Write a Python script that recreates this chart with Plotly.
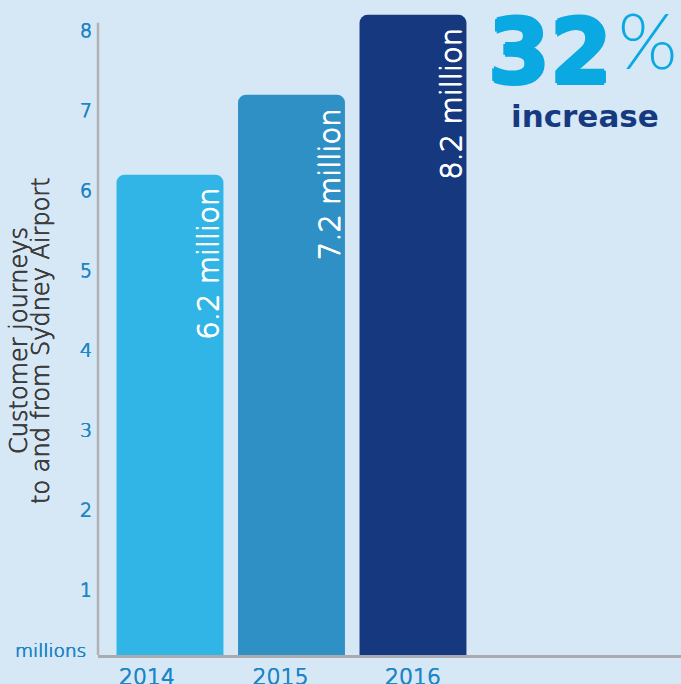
import plotly.graph_objects as go

years = ["2014", "2015", "2016"]
journeys = [6.2, 7.2, 8.2]
bar_labels = ["6.2 million", "7.2 million", "8.2 million"]
bar_colors = ["#30b5e6", "#2f90c6", "#15387f"]
y_ticks = [1, 2, 3, 4, 5, 6, 7, 8]
y_title_lines = ["Customer journeys", "to and from Sydney Airport"]

BG = "#d6e7f6"
BLUE = "#1c86c7"
FONT = "DejaVu Sans"

W, H = 681, 684
L, R, T, B = 98, 0, 0, 29
pw, ph = W - L - R, H - T - B

def px(x):
    return (x - L) / pw

def py(y):
    return (H - B - y) / ph

def thick(c, d=0.45):
    return f"{d}px 0 0 {c}, -{d}px 0 0 {c}, 0 {d}px 0 {c}, 0 -{d}px 0 {c}"

xs = list(range(len(years)))
label_offsets = [-0.19, -0.09, 0.0]

fig = go.Figure()
fig.add_trace(go.Bar(
    x=xs, y=journeys, width=0.88,
    marker=dict(color=bar_colors, line=dict(width=0)),
    hoverinfo="skip",
))

annotations = []
for i, (v, t) in enumerate(zip(journeys, bar_labels)):
    annotations.append(dict(
        x=i, y=v, xref="x", yref="y", text=t, showarrow=False,
        textangle=-90, xanchor="center", yanchor="top",
        xshift=38, yshift=-11,
        font=dict(family=FONT, size=29, color="white", weight=200, shadow=thick("white", 0.5)),
    ))

for xc, line in zip([19, 41], y_title_lines):
    annotations.append(dict(
        x=px(xc), y=py(341), xref="paper", yref="paper", xanchor="center", yanchor="middle",
        text=line, showarrow=False, textangle=-90,
        font=dict(family=FONT, size=24, color="#3d3d3d", weight=200, shadow=thick("#3d3d3d", 0.4)),
    ))

annotations += [
    dict(x=px(88), y=py(650), xref="paper", yref="paper", xanchor="right", yanchor="middle",
         text="millions", showarrow=False,
         font=dict(family=FONT, size=18.5, color=BLUE, weight=200, shadow=thick(BLUE, 0.35))),
    dict(x=px(614), y=py(52), xref="paper", yref="paper", xanchor="right", yanchor="middle",
         text="<b>32</b>", showarrow=False,
         font=dict(family=FONT, size=89, color="#0aa9e1", shadow=thick("#0aa9e1", 1.8))),
    dict(x=px(616), y=py(40), xref="paper", yref="paper", xanchor="left", yanchor="middle",
         text="%", showarrow=False, font=dict(family="Lato", size=76, color="#0aa9e1", weight=300)),
    dict(x=px(585), y=py(116), xref="paper", yref="paper", xanchor="center", yanchor="middle",
         text="<b>increase</b>", showarrow=False, font=dict(family=FONT, size=31, color="#163a80")),
]

fig.update_layout(
    width=W, height=H,
    margin=dict(l=L, r=R, t=T, b=B, pad=0),
    paper_bgcolor=BG, plot_bgcolor=BG,
    template="none",
    showlegend=False,
    barcornerradius=8,
    annotations=annotations,
    xaxis=dict(
        range=[-0.5926, 4.206], tickvals=[x + o for x, o in zip(xs, label_offsets)], ticktext=years,
        showgrid=False, zeroline=False, showline=True, linecolor="#a9abae", linewidth=3,
        ticks="", tickfont=dict(family=FONT, size=22, color=BLUE, weight=200, shadow=thick(BLUE, 0.4)),
        automargin=False, fixedrange=True,
    ),
    yaxis=dict(
        range=[0.188, 8.386], tickvals=y_ticks, showgrid=False, zeroline=False, showline=False,
        ticks="", ticklabelstandoff=5,
        tickfont=dict(family=FONT, size=19, color=BLUE, weight=200, shadow=thick(BLUE, 0.4)),
        automargin=False, fixedrange=True,
    ),
)

fig.add_shape(type="line", xref="paper", yref="y", x0=0, x1=0, y0=0.188, y1=8.1,
              line=dict(color="#b0b2b5", width=2.5), layer="above")

fig.write_html("out.html")
